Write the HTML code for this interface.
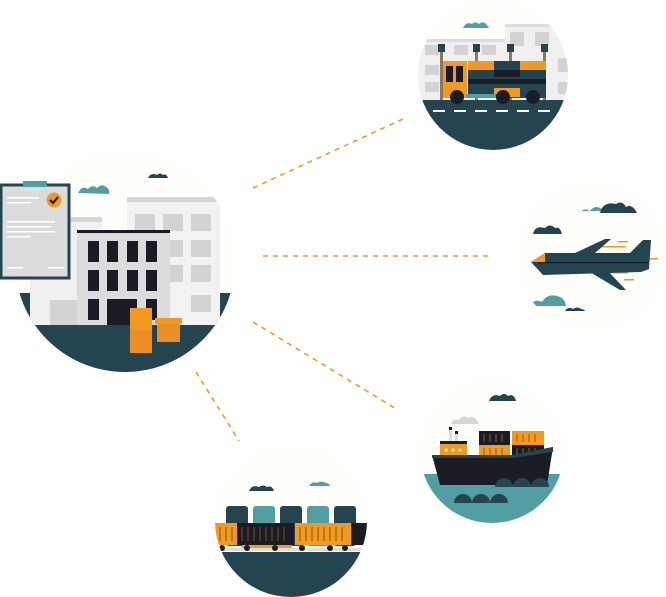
<!DOCTYPE html>
<html><head><meta charset="utf-8"><style>html,body{margin:0;padding:0;background:#fff}svg{display:block}</style></head>
<body>
<svg width="666" height="597" viewBox="0 0 666 597" xmlns="http://www.w3.org/2000/svg">
<defs>
<clipPath id="cb"><circle cx="125" cy="262" r="110"/></clipPath>
<clipPath id="ct"><circle cx="493" cy="75" r="75"/></clipPath>
<clipPath id="cp"><circle cx="592" cy="256" r="75"/></clipPath>
<clipPath id="cs"><circle cx="492" cy="451" r="72"/></clipPath>
<clipPath id="cr"><circle cx="291" cy="521" r="76"/></clipPath>
</defs>
<g stroke="#f39a1e" stroke-width="1.6" stroke-dasharray="5,5" fill="none">
<line x1="253" y1="188" x2="405" y2="118"/>
<line x1="263" y1="256" x2="490" y2="256"/>
<line x1="253" y1="322" x2="398" y2="410"/>
<line x1="196" y1="372" x2="239" y2="441"/>
</g>

<!-- building -->
<circle cx="125" cy="262" r="110" fill="#fefefa"/>
<g clip-path="url(#cb)">
<rect x="0" y="293" width="260" height="100" fill="#24444f"/>
<path d="M148 178 q3-6 9-3 q3-3 6 0 q3-2 5 3z" fill="#24444f"/>
<rect x="127" y="197" width="93" height="128" fill="#f2f2f2"/>
<rect x="127" y="197" width="93" height="5" fill="#d6d6d6"/>
<g fill="#d3d3d3"><rect x="135" y="214" width="20" height="17"/><rect x="163" y="214" width="20" height="17"/><rect x="191" y="214" width="20" height="17"/>
<rect x="163" y="240" width="20" height="17"/><rect x="191" y="240" width="20" height="17"/><rect x="163" y="265" width="20" height="17"/><rect x="191" y="265" width="20" height="17"/><rect x="191" y="295" width="20" height="17"/></g>
<rect x="30" y="217" width="72" height="108" fill="#f0f0f0"/>
<rect x="30" y="217" width="72" height="5" fill="#d6d6d6"/>
<rect x="50" y="300" width="28" height="25" fill="#d3d3d3"/>
<rect x="77" y="230" width="93" height="95" fill="#dcdcdc"/>
<rect x="77" y="230" width="93" height="3" fill="#1b1b25"/>
<g fill="#1b1b25">
<rect x="88" y="241" width="11" height="21"/><rect x="107" y="241" width="11" height="21"/><rect x="127" y="241" width="11" height="21"/><rect x="146" y="241" width="11" height="21"/>
<rect x="88" y="270" width="11" height="21"/><rect x="107" y="270" width="11" height="21"/><rect x="127" y="270" width="11" height="21"/><rect x="146" y="270" width="11" height="21"/>
<rect x="88" y="299" width="11" height="21"/><rect x="107" y="299" width="30" height="26"/><rect x="146" y="299" width="11" height="21"/></g>
<path d="M78 193 q4-8 10-4 q4-5 9-1 q6-6 12 2 v4z" fill="#519fa3"/>
<rect x="130" y="308" width="22" height="45" fill="#ea8e25"/>
<rect x="130" y="308" width="22" height="22" fill="#f39a1e"/>
<rect x="157" y="320" width="23" height="22" fill="#ea8e25"/>
<rect x="155" y="318" width="27" height="6" fill="#f39a1e"/>
</g>
<rect x="1" y="185" width="68" height="93" fill="#dcdcdc" stroke="#24444f" stroke-width="3"/>
<rect x="23" y="181" width="24" height="6" fill="#519fa3"/>
<circle cx="54" cy="200" r="7.5" fill="#f39a1e"/>
<path d="M50 200 l3 3 l5-6" stroke="#1b1b25" stroke-width="2.2" fill="none"/>
<g fill="#fff"><rect x="7" y="197" width="32" height="1.5"/><rect x="7" y="202" width="24" height="1.5"/><rect x="7" y="221" width="48" height="1.5"/><rect x="7" y="226" width="44" height="1.5"/><rect x="7" y="231" width="48" height="1.5"/><rect x="7" y="236" width="24" height="1.5"/><rect x="7" y="267" width="16" height="1.5"/><rect x="48" y="267" width="16" height="1.5"/></g>

<!-- truck -->
<circle cx="493" cy="75" r="75" fill="#fefefa"/>
<g clip-path="url(#ct)">
<rect x="505" y="24" width="70" height="80" fill="#f0f0f0"/><rect x="505" y="24" width="70" height="3" fill="#ddd"/>
<rect x="415" y="39" width="90" height="65" fill="#f0f0f0"/><rect x="415" y="39" width="90" height="3" fill="#ddd"/>
<g fill="#d3d3d3"><rect x="425" y="45" width="14" height="10"/><rect x="454" y="45" width="14" height="10"/><rect x="482" y="45" width="14" height="10"/><rect x="510" y="32" width="14" height="14"/><rect x="535" y="32" width="14" height="14"/><rect x="425" y="65" width="14" height="10"/><rect x="425" y="82" width="14" height="10"/><rect x="558" y="58" width="14" height="14"/><rect x="558" y="82" width="14" height="12"/></g>
<rect x="410" y="100" width="170" height="60" fill="#24444f"/>
<g fill="#fff"><rect x="433" y="110" width="12" height="2"/><rect x="454" y="110" width="12" height="2"/><rect x="475" y="110" width="12" height="2"/><rect x="496" y="110" width="12" height="2"/><rect x="517" y="110" width="12" height="2"/><rect x="538" y="110" width="12" height="2"/></g>
</g>
<path d="M463 28 q3-7 9-4 q3-3 7 0 q5-5 10 4z" fill="#519fa3"/>
<g fill="#8a7a5a"><rect x="440" y="52" width="3" height="48"/><rect x="475" y="52" width="3" height="48"/><rect x="509" y="52" width="3" height="48"/><rect x="543" y="52" width="3" height="48"/></g>
<g fill="#24444f"><rect x="438" y="44" width="7" height="8"/><rect x="473" y="44" width="7" height="8"/><rect x="507" y="44" width="7" height="8"/><rect x="541" y="44" width="7" height="8"/></g>
<rect x="443" y="61" width="24" height="37" fill="#f39a1e"/>
<rect x="446" y="66" width="7" height="16" fill="#1b1b25"/><rect x="456" y="66" width="7" height="16" fill="#1b1b25"/>
<rect x="468" y="61" width="78" height="37" fill="#24444f"/>
<rect x="468" y="61" width="26" height="9" fill="#f39a1e"/><rect x="520" y="61" width="26" height="9" fill="#f39a1e"/><rect x="494" y="88" width="26" height="9" fill="#f39a1e"/>
<rect x="468" y="79" width="78" height="5" fill="#1b1b25"/><rect x="494" y="70" width="26" height="7" fill="#1b1b25"/>
<rect x="466" y="94" width="40" height="4" fill="#519fa3"/>
<circle cx="457" cy="97" r="7" fill="#1b1b25"/><circle cx="503" cy="97" r="7" fill="#1b1b25"/><circle cx="533" cy="97" r="7" fill="#1b1b25"/>

<!-- plane -->
<circle cx="592" cy="256" r="75" fill="#fefefa"/>
<g clip-path="url(#cp)">
<path d="M580 213 q4-6 10-2 q6-8 14 0 h-22z" fill="#519fa3"/>
<path d="M600 213 q3-12 16-9 q6-4 10 3 q6-4 11 6z" fill="#24444f"/>
<path d="M533 234 q2-9 12-6 q5-5 10 0 q5-2 7 6z" fill="#24444f"/>
<path d="M530 306 q4-8 12-4 q6-10 18-5 q5 2 6 9z" fill="#519fa3"/>
<path d="M565 311 q3-5 8-2 q4-3 8 0 q3 0 4 2z" fill="#24444f"/>
<g fill="#f39a1e"><rect x="600" y="246" width="26" height="1.5"/><rect x="618" y="241" width="10" height="1.5"/><rect x="608" y="272" width="20" height="1.5"/><rect x="624" y="279" width="10" height="1.5"/><rect x="648" y="258" width="10" height="1.5"/></g>
<path d="M531 262 l14-9 h85 l13-13 h8 l-2 29 l-8 3 l-98 3 z" fill="#24444f"/>
<path d="M575 253 l30-14 h6 l-16 14z" fill="#24444f"/>
<path d="M578 265 l42 25 h6 l-24-25z" fill="#24444f"/>
<path d="M531 262 l14-9 v9z" fill="#f39a1e"/>
<rect x="538" y="262" width="110" height="1.2" fill="#1b1b25"/>
</g>

<!-- ship -->
<circle cx="492" cy="451" r="72" fill="#fefefa"/>
<g clip-path="url(#cs)">
<rect x="410" y="474" width="170" height="60" fill="#519fa3"/>
</g>
<path d="M489 401 q3-8 11-5 q4-4 8 0 q6-3 8 5z" fill="#24444f"/>
<path d="M451 424 q2-6 8-4 q4-6 10-2 q5-4 10 6z" fill="#d6d6d6"/>
<rect x="449" y="428" width="3" height="14" fill="#ddd"/><rect x="455" y="432" width="3" height="10" fill="#ddd"/>
<rect x="449" y="427" width="3" height="3" fill="#1b1b25"/><rect x="455" y="431" width="3" height="3" fill="#1b1b25"/>
<rect x="440" y="442" width="27" height="15" fill="#f39a1e"/><rect x="440" y="441" width="27" height="3" fill="#1b1b25"/>
<g fill="#fff"><circle cx="446" cy="450" r="1.5"/><circle cx="453" cy="450" r="1.5"/><circle cx="460" cy="450" r="1.5"/></g>
<rect x="479" y="431" width="31" height="14" fill="#1b1b25"/><rect x="479" y="445" width="31" height="12" fill="#f39a1e"/>
<rect x="512" y="431" width="32" height="14" fill="#f39a1e"/><rect x="512" y="445" width="32" height="12" fill="#1b1b25"/>
<g stroke="#8a6020" stroke-width="1"><path d="M484 434v8M490 434v8M496 434v8M502 434v8M517 434v8M523 434v8M529 434v8M535 434v8M484 448v7M490 448v7M496 448v7M502 448v7M517 448v7M523 448v7M529 448v7M535 448v7"/></g>
<path d="M432 455 h80 l41-8 l-6 38 h-107z" fill="#1b1b25"/>
<path d="M432 455 h80 l41-8 v5 l-41 6 h-80z" fill="#24444f"/>
<g fill="#24444f"><path d="M495 487 a9 9 0 0 1 18 0z"/><path d="M513 487 a9 9 0 0 1 18 0z"/><path d="M531 487 a9 9 0 0 1 18 0z"/>
<path d="M454 503 a9 9 0 0 1 18 0z"/><path d="M472 503 a9 9 0 0 1 18 0z"/><path d="M490 503 a9 9 0 0 1 18 0z"/></g>

<!-- train -->
<circle cx="291" cy="521" r="76" fill="#fefefa"/>
<g clip-path="url(#cr)">
<rect x="200" y="552" width="180" height="60" fill="#24444f"/>
<path d="M249 491 q3-7 10-4 q4-3 8 0 q5-2 7 4z" fill="#24444f"/>
<path d="M309 486 q3-5 8-3 q4-3 9 0 q3 0 4 3z" fill="#519fa3"/>
<rect x="226" y="506" width="22" height="40" rx="3" fill="#24444f"/><rect x="253" y="506" width="22" height="40" rx="3" fill="#519fa3"/><rect x="280" y="506" width="22" height="40" rx="3" fill="#24444f"/><rect x="307" y="506" width="22" height="40" rx="3" fill="#519fa3"/><rect x="334" y="506" width="22" height="40" rx="3" fill="#24444f"/>
<rect x="215" y="523" width="22" height="22" fill="#f39a1e"/>
<rect x="237" y="523" width="57" height="22" fill="#1b1b25"/>
<rect x="295" y="523" width="56" height="22" fill="#f39a1e"/>
<rect x="352" y="523" width="16" height="22" fill="#1b1b25"/>
<rect x="242" y="545" width="50" height="3" fill="#f39a1e"/>
<g stroke="#7a5520" stroke-width="1"><path d="M220 527v14M226 527v14M232 527v14M242 527v14M248 527v14M254 527v14M260 527v14M266 527v14M272 527v14M278 527v14M284 527v14M300 527v14M306 527v14M312 527v14M318 527v14M324 527v14M330 527v14M336 527v14M342 527v14"/></g>
<rect x="200" y="548" width="180" height="3" fill="#ddd"/>
<g fill="#1b1b25"><circle cx="222" cy="548" r="3"/><circle cx="247" cy="548" r="3"/><circle cx="275" cy="548" r="3"/><circle cx="302" cy="548" r="3"/><circle cx="330" cy="548" r="3"/><circle cx="345" cy="548" r="3"/></g>
</g>
</svg>
</body></html>
